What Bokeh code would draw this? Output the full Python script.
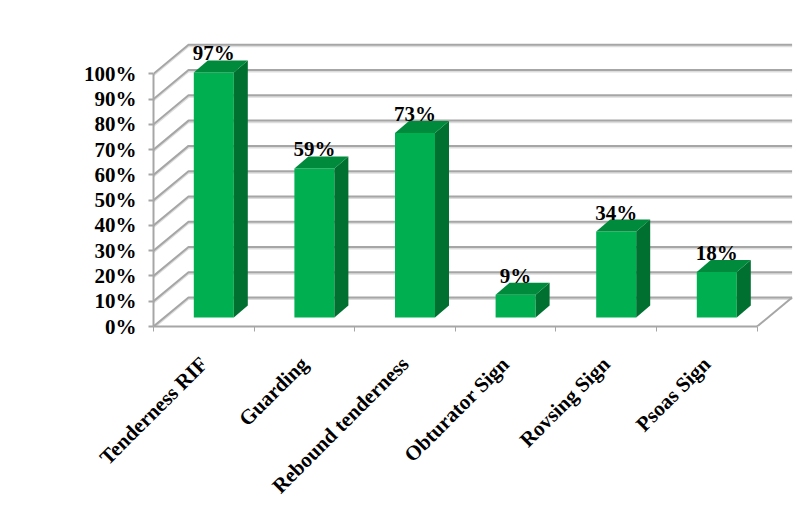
from bokeh.plotting import figure
from bokeh.models import LinearAxis, FixedTicker, Range1d
from bokeh.core.properties import value
from bokeh.embed import file_html
from bokeh.resources import INLINE

categories = ["Tenderness RIF", "Guarding", "Rebound tenderness", "Obturator Sign", "Rovsing Sign", "Psoas Sign"]
percentages = [97, 59, 73, 9, 34, 18]
y_ticks = [0, 10, 20, 30, 40, 50, 60, 70, 80, 90, 100]

# projection constants, in data units
PX_X = 100.6
PX_Y = 2.527
depth_x = 35 / PX_X
depth_y = 29 / PX_Y
bar_w = 40 / PX_X
bar_dx = 14 / PX_X
bar_dy = 12 / PX_Y
bar_base = 9 / PX_Y
bar_off = 40.3 / PX_X
n = len(categories)

FONT = "Liberation Serif"
FRONT, SIDE, TOP = "#00B050", "#007030", "#008A3C"
GRID = "#A6A6A6"

p = figure(width=796, height=491, output_backend="svg", toolbar_location=None,
           x_range=Range1d(0, 643 / PX_X), y_range=Range1d(0, 326 / PX_Y),
           x_axis_type=None, y_axis_type=None, frame_height=326, frame_width=643,
           min_border_left=153, min_border_right=0, min_border_top=0, min_border_bottom=0)
p.outline_line_color = None
p.grid.visible = False

# axes
ya = LinearAxis(ticker=FixedTicker(ticks=y_ticks), bounds=(0, 100))
ya.formatter.use_scientific = False
ya.major_label_overrides = {t: f"{t}%" for t in y_ticks}
ya.major_label_text_font = FONT
ya.major_label_text_font_style = "bold"
ya.major_label_text_font_size = "21px"
ya.major_label_text_color = "#000000"
ya.major_label_standoff = 12
ya.axis_line_color = GRID
ya.axis_line_width = 2
ya.major_tick_line_color = GRID
ya.major_tick_line_width = 2
ya.major_tick_out = 5
ya.major_tick_in = 0
ya.minor_tick_line_color = None
p.add_layout(ya, "left")

xa = LinearAxis(ticker=FixedTicker(ticks=[i + 0.5 for i in range(n)], minor_ticks=list(range(n + 1))),
                bounds=(0, n))
xa.major_label_overrides = {i + 0.5: c for i, c in enumerate(categories)}
xa.major_label_orientation = 0.785
xa.major_label_text_font = FONT
xa.major_label_text_font_style = "bold"
xa.major_label_text_font_size = "21px"
xa.major_label_text_color = "#000000"
xa.major_label_standoff = 29
xa.axis_line_color = GRID
xa.axis_line_width = 2
xa.major_tick_line_color = None
xa.major_tick_out = 0
xa.minor_tick_line_color = GRID
xa.minor_tick_line_width = 1
xa.minor_tick_out = 5
xa.minor_tick_in = 0
p.add_layout(xa, "below")

# walls and floor
wall_x = [[0, depth_x, n + depth_x] for _ in y_ticks]
wall_y = [[t, t + depth_y, t + depth_y] for t in y_ticks]
p.multi_line(wall_x, [[v - 0.6 for v in row] for row in wall_y], line_color="#DDDDDD", line_width=2)
p.multi_line(wall_x, wall_y, line_color=GRID, line_width=2)
p.line([n, n + depth_x], [0, depth_y], line_color=GRID, line_width=2)

# bars
lefts = [i + bar_off for i in range(n)]
rights = [l + bar_w for l in lefts]
tops = [bar_base + v for v in percentages]
p.quad(left=lefts, right=rights, bottom=[bar_base] * n, top=tops, fill_color=FRONT, line_color=None)
p.patches([[r, r + bar_dx, r + bar_dx, r] for r in rights],
          [[bar_base, bar_base + bar_dy, t + bar_dy, t] for t in tops],
          fill_color=SIDE, line_color=None)
p.patches([[l, l + bar_dx, r + bar_dx, r] for l, r in zip(lefts, rights)],
          [[t, t + bar_dy, t + bar_dy, t] for t in tops],
          fill_color=TOP, line_color=None)

# value labels
p.text([l + bar_w / 2 for l in lefts], [t + bar_dy + 0.4 for t in tops],
       text=[f"{v}%" for v in percentages],
       text_font=value(FONT), text_font_style="bold", text_font_size="21px",
       text_color="#000000", text_align="center", text_baseline="alphabetic",
       y_offset=-6)

open("out.html", "w").write(file_html(p, INLINE))
